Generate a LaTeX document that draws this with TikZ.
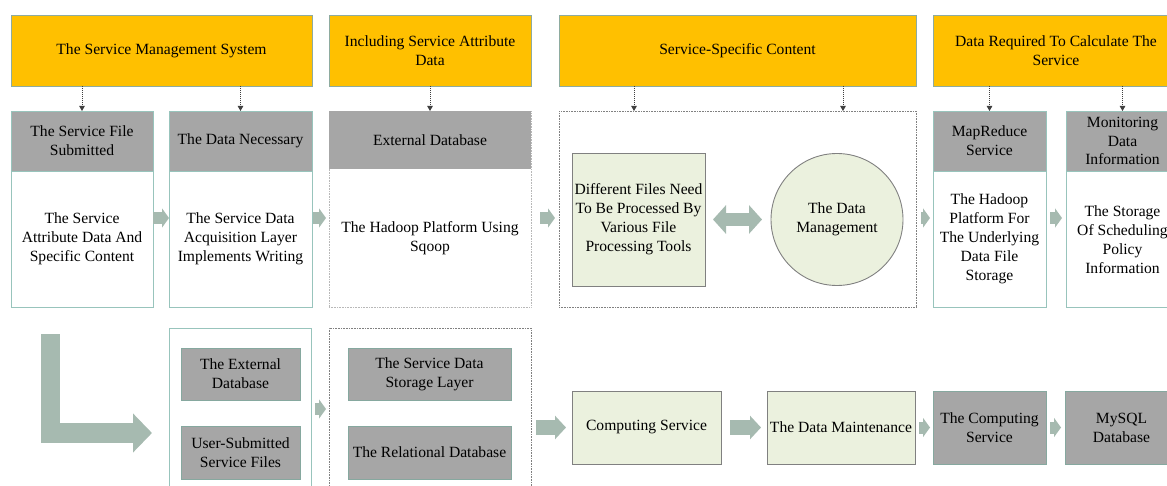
\documentclass[tikz,border=0pt]{standalone}
\usepackage{fontspec}
\setmainfont{Liberation Serif}
\usetikzlibrary{arrows.meta,fit,calc}
\definecolor{ybg}{HTML}{FFC000}
\definecolor{yline}{HTML}{8EAB9F}
\definecolor{hdrgray}{HTML}{A6A6A6}
\definecolor{tealline}{HTML}{98C4BC}
\definecolor{grayline}{HTML}{86A89F}
\definecolor{lgreen}{HTML}{EBF1DE}
\definecolor{boxline}{HTML}{808080}
\definecolor{arrowc}{HTML}{A6BAB0}
\definecolor{dotc}{HTML}{404040}
\begin{document}
\begin{tikzpicture}[x=1pt,y=-1pt,
  font=\fontsize{15.6}{19}\selectfont,
  every node/.style={inner sep=0pt,outer sep=0pt,align=center,text=black},
  yellowbox/.style={fill=ybg,draw=yline,line width=0.8pt},
  colbox/.style={draw=tealline,line width=0.8pt,fill=white},
  hdrbox/.style={fill=hdrgray,draw=tealline,line width=0.8pt},
  graybox/.style={fill=hdrgray,draw=grayline,line width=0.9pt},
  hdrplain/.style={fill=hdrgray},
  dotbox/.style={draw=boxline,line width=0.8pt,dash pattern=on 0.8pt off 0.8pt},
  lightdot/.style={draw=black!28,line width=0.8pt,dash pattern=on 0.8pt off 0.8pt},
  greenbox/.style={fill=lgreen,draw=boxline,line width=0.9pt},
  feed/.style={draw=dotc,line width=0.8pt,dash pattern=on 1pt off 1pt,-{Triangle[length=5pt,width=5.5pt]}},
  blk/.style={draw=arrowc,line width=12pt,-{Triangle[length=7pt,width=19pt]}},
  bigblk/.style={draw=arrowc,line width=15.5pt,-{Triangle[length=11pt,width=23pt]}},
  dblk/.style={draw=arrowc,line width=13pt,{Triangle[length=13pt,width=28pt]}-{Triangle[length=13pt,width=28pt]}},
  lblk/.style={draw=arrowc,line width=19.5pt,line join=miter,-{Triangle[length=19pt,width=38pt]}}
]
\useasboundingbox (0,0) rectangle (1167,486);
\clip (0,0) rectangle (1167,486);

% levels of the block arrows
\coordinate (lv1) at (0,218);
\coordinate (lv2) at (0,409);

% top row: yellow headings
\node[yellowbox,fit={(11,15) (312,86)}] (y1) {};
\node (y1l) at (y1) {The Service Management System};
\node[yellowbox,fit={(329,15) (531,86)}] (y2) {};
\node (y2l) at (y2) {Including Service Attribute\\Data};
\node[yellowbox,fit={(559,15) (916,86)}] (y3) {};
\node (y3l) at (y3) {Service-Specific Content};
\node[yellowbox,fit={(933,15) (1179,86)}] (y4) {};
\node (y4l) at (y4) {Data Required To Calculate The\\Service};

% column 1
\node[colbox,fit={(11,111) (153,307)}] (c1) {};
\node[hdrbox,fit={(11,111) (153,171)}] (c1h) {};
\node (c1hl) at (c1h) {The Service File\\Submitted};
\node (c1t) at (82,239) {The Service\\Attribute Data And\\Specific Content};

% column 2
\node[colbox,fit={(169,111) (312,307)}] (c2) {};
\node[hdrbox,fit={(169,111) (312,171)}] (c2h) {};
\node (c2hl) at (c2h) {The Data Necessary};
\node (c2t) at (240.5,239) {The Service Data\\Acquisition Layer\\Implements Writing};

% column 3
\node[lightdot,fit={(329,111) (531,307)}] (c3) {};
\node[hdrplain,fit={(329,111) (531,169)}] (c3h) {};
\node (c3hl) at (c3h) {External Database};
\node (c3t) at (430,238) {The Hadoop Platform Using\\Sqoop};

% service-specific container
\node[dotbox,fit={(559,111) (916,307)}] (dbox) {};
\node[greenbox,fit={(572,153) (705,286)}] (g1) {};
\node (g1l) at (g1) {Different Files Need\\To Be Processed By\\Various File\\Processing Tools};
\node[greenbox,circle,minimum size=132pt] (dm) at (837,219.5) {};
\node (dml) at (dm) {The Data\\Management};
\coordinate (d1) at (634,111);
\coordinate (d2) at (843,111);

% column 5
\node[colbox,fit={(933,111) (1046,307)}] (c5) {};
\node[hdrbox,fit={(933,111) (1046,171)}] (c5h) {};
\node (c5hl) at (c5h) {MapReduce\\Service};
\node (c5t) at (989.5,239) {The Hadoop\\Platform For\\The Underlying\\Data File\\Storage};

% column 6
\node[colbox,fit={(1066,111) (1179,307)}] (c6) {};
\node[hdrbox,fit={(1066,111) (1179,171)}] (c6h) {};
\node[font=\fontsize{15.6}{18.5}\selectfont] (c6hl) at (c6h) {Monitoring\\Data\\Information};
\node (c6t) at (1122.5,240) {The Storage\\Of Scheduling\\Policy\\Information};

% dotted feeds from the headings
\draw[feed] (c1h.north |- y1.south) -- (c1h.north);
\draw[feed] (c2h.north |- y1.south) -- (c2h.north);
\draw[feed] (c3h.north |- y2.south) -- (c3h.north);
\draw[feed] (d1 |- y3.south) -- (d1 |- dbox.north);
\draw[feed] (d2 |- y3.south) -- (d2 |- dbox.north);
\draw[feed] (c5h.north |- y4.south) -- (c5h.north);
\draw[feed] (c6h.north |- y4.south) -- (c6h.north);

% top row block arrows
\draw[blk] (c1.east |- lv1) -- (c2.west |- lv1);
\draw[blk,shorten <=1pt,shorten >=3pt] (c2.east |- lv1) -- (c3.west |- lv1);
\draw[blk,shorten <=9pt,shorten >=4pt] (c3.east |- lv1) -- (dbox.west |- lv1);
\draw[dblk,shorten <=8pt,shorten >=9pt] (g1.east) -- (dm.west);
\draw[blk,shorten <=5pt,shorten >=3pt] (dbox.east |- lv1) -- (c5.west |- lv1);
\draw[blk,shorten <=4pt,shorten >=4pt] (c5.east |- lv1) -- (c6.west |- lv1);

% bottom row
\node[colbox,fit={(169,328) (311,500)}] (b1) {};
\node[graybox,fit={(181,348) (300,400)}] (e1) {};
\node (e1l) at (e1) {The External\\Database};
\node[graybox,fit={(181,426) (300,479)}] (e2) {};
\node (e2l) at (e2) {User-Submitted\\Service Files};
\node[dotbox,fit={(329,328) (531,500)}] (b2) {};
\node[graybox,fit={(348,348) (511,400)}] (s1) {};
\node (s1l) at (s1) {The Service Data\\Storage Layer};
\node[graybox,fit={(348,426) (511,479)}] (s2) {};
\node (s2l) at (s2) {The Relational Database};
\node[greenbox,fit={(572,391) (721,464)}] (comp) {};
\node (compl) at (comp) {Computing Service};
\node[greenbox,fit={(767,391) (915,464)}] (maint) {};
\node (maintl) at (maint) {The Data Maintenance};
\node[graybox,fit={(933,391) (1046,464)}] (cs) {};
\node (csl) at (cs) {The Computing\\Service};
\node[graybox,fit={(1065,391) (1178,464)}] (mysql) {};
\node (mysqll) at (mysql) {MySQL\\Database};

% turn from the top row down to the bottom row
\coordinate (lstart) at (50.5,334);
\coordinate (lend) at (152,433);
\draw[lblk] (lstart) |- (lend);

% bottom row block arrows
\draw[blk,shorten <=4pt,shorten >=3pt] (b1.east |- lv2) -- (b2.west |- lv2);
\draw[bigblk,shorten <=5pt,shorten >=6pt] (b2.east |- comp.west) -- (comp.west);
\draw[bigblk,shorten <=9pt,shorten >=6pt] (comp.east) -- (maint.west);
\draw[blk,shorten <=4pt,shorten >=3pt] (maint.east) -- (cs.west);
\draw[blk,shorten <=4pt,shorten >=4pt] (cs.east) -- (mysql.west);
\end{tikzpicture}
\end{document}
